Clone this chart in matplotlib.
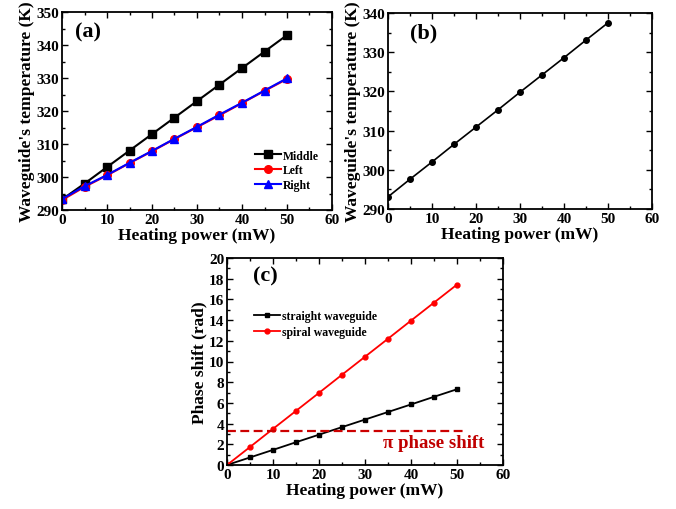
import matplotlib
matplotlib.use('Agg')
import matplotlib.pyplot as plt
from matplotlib.ticker import AutoMinorLocator

plt.rcParams['font.family'] = 'Liberation Serif'
plt.rcParams['font.weight'] = 'bold'

# data
power = [0, 5, 10, 15, 20, 25, 30, 35, 40, 45, 50]
t_middle = [293.2, 298.0, 303.0, 308.0, 313.0, 318.0, 323.0, 328.0, 333.0, 338.0, 343.0]
t_left = [293.0, 297.0, 300.5, 304.2, 307.8, 311.5, 315.1, 318.7, 322.4, 326.1, 329.7]
t_right = [293.3, 297.2, 300.6, 304.3, 307.9, 311.6, 315.2, 318.9, 322.5, 326.2, 329.9]
t_avg = [293.1, 297.6, 302.0, 306.5, 310.9, 315.3, 319.8, 324.2, 328.6, 333.1, 337.5]
ph_straight = [0, 0.73, 1.46, 2.2, 2.93, 3.66, 4.39, 5.12, 5.85, 6.59, 7.32]
ph_spiral = [0, 1.74, 3.49, 5.23, 6.97, 8.72, 10.46, 12.2, 13.95, 15.69, 17.43]
pi_level = 3.3
pi_end = 52

fig = plt.figure(figsize=(6.76, 5.1), dpi=100)
W, H = 676, 510


def box(l, t, r, b):
    return fig.add_axes([l / W, 1 - b / H, (r - l) / W, (b - t) / H])


def style(ax):
    ax.xaxis.set_minor_locator(AutoMinorLocator(2))
    ax.yaxis.set_minor_locator(AutoMinorLocator(2))
    ax.tick_params(which='both', direction='in', top=True, right=True, labelsize=11, pad=2)
    ax.tick_params(which='major', length=4, width=1)
    ax.tick_params(which='minor', length=2, width=1)
    for s in ax.spines.values():
        s.set_linewidth(1.3)
    ax.set_xlim(0, 60)
    ax.set_xticks(range(0, 61, 10))
    ax.set_xlabel('Heating power (mW)', fontsize=12.5, fontweight='bold', labelpad=1)


# (a)
ax1 = box(62, 13, 332, 211)
ax1.plot(power, t_middle, '-s', color='black', ms=5.5, lw=1.5, label='Middle')
ax1.plot(power, t_left, '-o', color='red', ms=5.5, lw=1.5, label='Left')
ax1.plot(power, t_right, '-^', color='blue', ms=5.5, lw=1.5, label='Right')
style(ax1)
ax1.set_ylim(290, 350)
ax1.set_yticks(range(290, 351, 10))
ax1.set_ylabel("Waveguide's temperature (K)", fontsize=12.5, fontweight='bold', labelpad=1)
ax1.text(3.0, 344, '(a)', fontsize=16, fontweight='bold', va='center')
ax1.legend(loc='lower right', frameon=False, fontsize=8.5, handlelength=2.2,
           handletextpad=0.2, borderaxespad=0, labelspacing=0.25,
           bbox_to_anchor=(0.97, 0.07))

# (b)
ax2 = box(388, 14, 652, 210)
ax2.plot(power, t_avg, '-o', color='black', ms=4, lw=1.2)
style(ax2)
ax2.set_ylim(290, 340)
ax2.set_yticks(range(290, 341, 10))
ax2.set_ylabel("Waveguide's temperature (K)", fontsize=12.5, fontweight='bold', labelpad=1)
ax2.text(5.0, 335, '(b)', fontsize=16, fontweight='bold', va='center')

# (c)
ax3 = box(227, 259, 503, 466)
ax3.plot(power, ph_straight, '-s', color='black', ms=3.5, lw=1.3, label='straight waveguide')
ax3.plot(power, ph_spiral, '-o', color='red', ms=3.5, lw=1.3, label='spiral waveguide')
ax3.plot([0, pi_end], [pi_level, pi_level], '--', color='#cc0000', lw=1.6, dashes=(4, 2))
style(ax3)
ax3.set_ylim(0, 20)
ax3.set_yticks(range(0, 21, 2))
ax3.set_ylabel('Phase shift (rad)', fontsize=12.5, fontweight='bold', labelpad=1)
ax3.text(5.6, 18.3, '(c)', fontsize=16, fontweight='bold', va='center')
ax3.text(34, 2.2, 'π phase shift', fontsize=13.5, fontweight='bold',
         color='#c00000', va='center')
ax3.legend(loc='upper left', frameon=False, fontsize=8.5, handlelength=2.2,
           handletextpad=0.2, borderaxespad=0, labelspacing=0.3,
           bbox_to_anchor=(0.08, 0.77))

fig.savefig('out.png', dpi=100)
